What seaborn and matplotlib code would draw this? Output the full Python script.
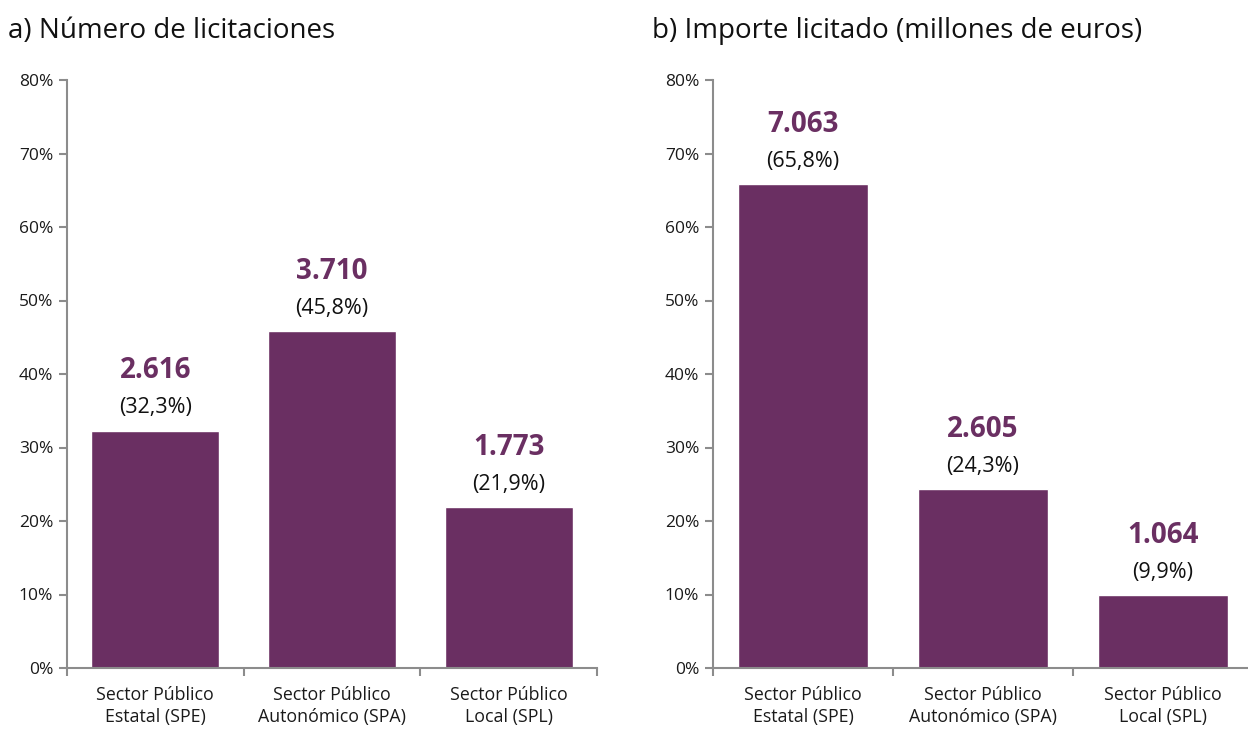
import matplotlib
matplotlib.use("Agg")
import matplotlib.pyplot as plt
import seaborn as sns
import pandas as pd
from matplotlib.ticker import FixedLocator

sns.set_theme(style="white")
plt.rcParams['font.family'] = ['Open Sans', 'DejaVu Sans']

categories = ["Sector Público\nEstatal (SPE)", "Sector Público\nAutonómico (SPA)", "Sector Público\nLocal (SPL)"]
pct_num = [32.3, 45.8, 21.9]
count_num = ["2.616", "3.710", "1.773"]
pct_imp = [65.8, 24.3, 9.9]
amount_imp = ["7.063", "2.605", "1.064"]
yticks = [0, 10, 20, 30, 40, 50, 60, 70, 80]
titles = ["a) Número de licitaciones", "b) Importe licitado (millones de euros)"]

BAR = "#6A2F62"
SPINE = "#8C8C8C"

W, H = 1248, 729
fig = plt.figure(figsize=(W / 100, H / 100), dpi=100)

def fx(px):
    return px / W

def fy(py):
    return 1 - py / H

axes_px = [(67, 597), (713, 1253)]
top_px, bot_px = 80, 668

datasets = [(pct_num, count_num), (pct_imp, amount_imp)]

for i, ((x0, x1), (pcts, vals)) in enumerate(zip(axes_px, datasets)):
    ax = fig.add_axes([fx(x0), fy(bot_px), fx(x1 - x0), (bot_px - top_px) / H])
    df = pd.DataFrame({"cat": categories, "pct": pcts})
    sns.barplot(data=df, x="cat", y="pct", color=BAR, saturation=1, width=0.725, ax=ax)
    ax.set_xlim(-0.5, 2.5)
    ax.set_ylim(0, 80)
    ax.set_xlabel("")
    ax.set_ylabel("")
    ax.set_yticks(yticks)
    ax.set_yticklabels([f"{t}%" for t in yticks], fontsize=12.5, color="#1a1a1a")
    ax.xaxis.set_major_locator(FixedLocator([-0.5, 0.5, 1.5, 2.5]))
    ax.xaxis.set_minor_locator(FixedLocator([0, 1, 2]))
    ax.set_xticklabels([], minor=False)
    ax.set_xticklabels(categories, minor=True, fontsize=12.8, color="#1a1a1a", linespacing=1.3)
    ax.tick_params(axis="x", which="major", length=6, width=1.5, color=SPINE, direction="out", bottom=True)
    ax.tick_params(axis="x", which="minor", length=0, pad=13)
    ax.tick_params(axis="y", length=6, width=1.5, color=SPINE, direction="out", left=True, pad=4)
    for s in ["top", "right"]:
        ax.spines[s].set_visible(False)
    for s in ["left", "bottom"]:
        ax.spines[s].set_color(SPINE)
        ax.spines[s].set_linewidth(1.5)
    for j, (p, v) in enumerate(zip(pcts, vals)):
        ax.annotate(f"({p:.1f}%)".replace(".", ","), xy=(j, p), xytext=(0, 16.5),
                    textcoords="offset points", ha="center", va="center",
                    fontsize=15.5, color="#111111", annotation_clip=False)
        ax.annotate(v, xy=(j, p), xytext=(0, 43),
                    textcoords="offset points", ha="center", va="center",
                    fontsize=20, fontweight="bold", color=BAR, annotation_clip=False)

fig.text(fx(8), fy(31), titles[0], fontsize=20, ha="left", va="center", color="#111111")
fig.text(fx(652), fy(31), titles[1], fontsize=20, ha="left", va="center", color="#111111")

fig.savefig("out.png", dpi=100, facecolor="white")
